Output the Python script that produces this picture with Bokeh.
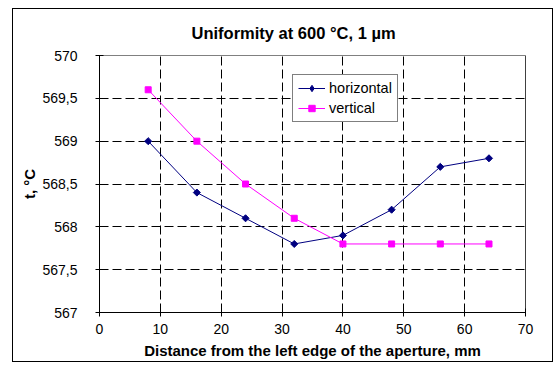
import math
from bokeh.plotting import figure
from bokeh.models import ColumnDataSource, Legend, LegendItem, FixedTicker, Range1d, Span
from bokeh.embed import file_html
from bokeh.resources import INLINE

distance = [8, 16, 24, 32, 40, 48, 56, 64]
horizontal = [569.0, 568.4, 568.1, 567.8, 567.9, 568.2, 568.7, 568.8]
vertical = [569.6, 569.0, 568.5, 568.1, 567.8, 567.8, 567.8, 567.8]
x_ticks = [0, 10, 20, 30, 40, 50, 60, 70]
y_ticks = [567, 567.5, 568, 568.5, 569, 569.5, 570]
y_labels = ["567", "567,5", "568", "568,5", "569", "569,5", "570"]
title_text = "Uniformity at 600 °C, 1 µm"

FONT = "Liberation Sans"

p = figure(width=541, height=354, output_backend="svg", toolbar_location=None,
           x_range=Range1d(0, 70), y_range=Range1d(567, 570),
           min_border_left=86, min_border_right=29, min_border_top=46, min_border_bottom=51,
           title=title_text)
p.margin = (8, 0, 0, 12)
p.styles = {"border": "1px solid #000000", "box-sizing": "border-box"}

p.title.align = "left"
p.title.offset = 92
p.title.vertical_align = "top"
p.title.standoff = 23
p.title.text_font = FONT
p.title.text_font_size = "16.5px"
p.title.text_font_style = "bold"
p.title.text_color = "black"

p.outline_line_color = "#808080"
p.outline_line_width = 1
p.background_fill_color = "white"
p.border_fill_color = "white"

src = ColumnDataSource(dict(x=distance, h=horizontal, v=vertical))
lh = p.line("x", "h", source=src, line_color="#000080", line_width=1)
mh = p.scatter("x", "h", source=src, marker="square", size=5, angle=math.pi / 4,
               fill_color="#000080", line_color="#000080")
lv = p.line("x", "v", source=src, line_color="#FF00FF", line_width=1)
mv = p.scatter("x", "v", source=src, marker="square", size=6, fill_color="#FF00FF", line_color="#FF00FF")
# hidden legend proxy for the diamond marker (legend glyphs ignore marker angle)
mh_leg = p.scatter("x", "h", source=src, marker="diamond", size=8,
                   fill_color="#000080", line_color="#000080", visible=False)

p.xaxis.ticker = FixedTicker(ticks=x_ticks)
p.yaxis.ticker = FixedTicker(ticks=y_ticks)
p.yaxis.major_label_overrides = {t: l for t, l in zip(y_ticks, y_labels)}
p.xaxis.minor_tick_line_color = None
p.yaxis.minor_tick_line_color = None
for ax in (p.xaxis, p.yaxis):
    ax.axis_line_color = "black"
    ax.major_tick_line_color = "black"
    ax.major_tick_in = 4
    ax.major_tick_out = 4
    ax.major_label_text_font = FONT
    ax.major_label_text_font_size = "14px"
    ax.major_label_text_color = "black"
    ax.axis_label_text_font = FONT
    ax.axis_label_text_font_size = "15px"
    ax.axis_label_text_font_style = "bold"
    ax.axis_label_text_color = "black"
p.xaxis.axis_label = "Distance from the left edge of the aperture, mm"
p.yaxis.axis_label = "t, °C"
p.xaxis.major_label_standoff = 7
p.yaxis.major_label_standoff = 18
p.xaxis.axis_label_standoff = 5
p.yaxis.axis_label_standoff = 1

p.xgrid.grid_line_color = "black"
p.ygrid.grid_line_color = "black"
p.xgrid.grid_line_dash = "9 4"
p.ygrid.grid_line_dash = "9 4"

p.add_layout(Span(location=70, dimension="height", line_color="black", line_width=1))

legend = Legend(items=[LegendItem(label="horizontal", renderers=[lh, mh_leg]),
                       LegendItem(label="vertical", renderers=[lv, mv])],
                location=(193, 190))
legend.border_line_color = "black"
legend.border_line_width = 1
legend.label_text_font = FONT
legend.label_text_font_size = "14.5px"
legend.label_text_color = "black"
legend.glyph_width = 27
legend.glyph_height = 16
legend.label_standoff = 4
legend.spacing = 4
legend.padding = 5
legend.margin = 0
legend.background_fill_alpha = 1
p.add_layout(legend, "center")

open("out.html", "w").write(file_html(p, INLINE))
